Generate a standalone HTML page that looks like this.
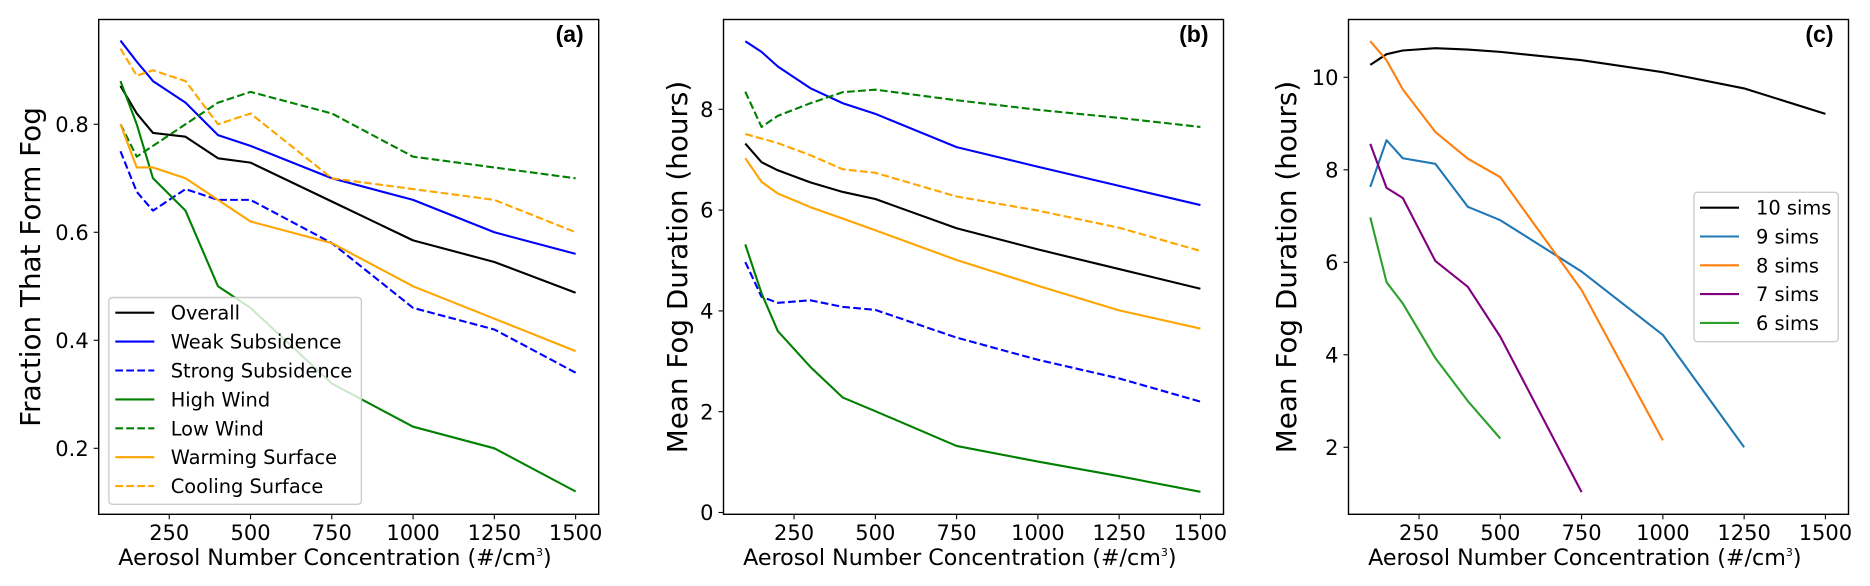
<!DOCTYPE html>
<html lang="en">
<head>
<meta charset="utf-8">
<title>Fog formation and duration versus aerosol number concentration</title>
<style>
  html, body { margin: 0; padding: 0; background: #fff; width: 1870px; height: 586px; overflow: hidden; }
  svg { display: block; }
  text { font-family: "DejaVu Sans", "Liberation Sans", sans-serif; fill: #000; }
</style>
</head>
<body>
<svg id="figure" xmlns="http://www.w3.org/2000/svg" width="1870" height="586" viewBox="0 0 1870 586"></svg>
<script>
// Shared x categories (aerosol number concentration)
const aerosolValues = [100, 150, 200, 300, 400, 500, 750, 1000, 1250, 1500];
const xTickValues = [250, 500, 750, 1000, 1250, 1500];

// Panel (a): fraction that form fog
const overallA = [0.871, 0.82, 0.784, 0.777, 0.737, 0.729, 0.657, 0.585, 0.545, 0.488];
const weakSubsidenceA = [0.955, 0.916, 0.88, 0.84, 0.78, 0.76, 0.70, 0.66, 0.60, 0.56];
const strongSubsidenceA = [0.75, 0.675, 0.64, 0.68, 0.66, 0.66, 0.58, 0.46, 0.42, 0.34];
const highWindA = [0.88, 0.80, 0.70, 0.64, 0.50, 0.46, 0.32, 0.24, 0.20, 0.12];
const lowWindA = [0.80, 0.74, 0.76, 0.80, 0.84, 0.86, 0.82, 0.74, 0.72, 0.70];
const warmingSurfaceA = [0.80, 0.72, 0.72, 0.70, 0.66, 0.62, 0.58, 0.50, 0.44, 0.38];
const coolingSurfaceA = [0.94, 0.89, 0.90, 0.88, 0.80, 0.82, 0.70, 0.68, 0.66, 0.60];
const yTicksA = [0.2, 0.4, 0.6, 0.8];
const yTickLabelsA = ["0.2", "0.4", "0.6", "0.8"];

// Panel (b): mean fog duration by regime
const overallB = [7.32, 6.95, 6.79, 6.55, 6.36, 6.22, 5.64, 5.22, 4.83, 4.44];
const weakSubsidenceB = [9.35, 9.14, 8.85, 8.42, 8.12, 7.91, 7.25, 6.86, 6.48, 6.10];
const strongSubsidenceB = [4.97, 4.28, 4.16, 4.21, 4.08, 4.02, 3.47, 3.03, 2.66, 2.20];
const highWindB = [5.32, 4.35, 3.60, 2.89, 2.28, 2.01, 1.32, 1.01, 0.72, 0.41];
const lowWindB = [8.35, 7.65, 7.87, 8.12, 8.34, 8.39, 8.18, 7.99, 7.83, 7.65];
const warmingSurfaceB = [7.03, 6.56, 6.33, 6.06, 5.83, 5.60, 5.01, 4.50, 4.01, 3.65];
const coolingSurfaceB = [7.51, 7.42, 7.33, 7.09, 6.81, 6.74, 6.27, 5.99, 5.65, 5.19];
const yTicksB = [0, 2, 4, 6, 8];
const yTickLabelsB = ["0", "2", "4", "6", "8"];

// Panel (c): mean fog duration by simulation count
const tenSims = [10.27, 10.50, 10.58, 10.63, 10.60, 10.55, 10.37, 10.11, 9.76, 9.21];
const nineSims = [7.63, 8.64, 8.25, 8.13, 7.20, 6.91, 5.80, 4.43, 2.00];
const eightSims = [10.78, 10.37, 9.74, 8.82, 8.24, 7.84, 5.40, 2.15];
const sevenSims = [8.56, 7.61, 7.39, 6.03, 5.47, 4.39, 1.03];
const sixSims = [6.97, 5.57, 5.11, 3.93, 3.00, 2.19];
const yTicksC = [2, 4, 6, 8, 10];
const yTickLabelsC = ["2", "4", "6", "8", "10"];

const SVG_NS = "http://www.w3.org/2000/svg";
const figure = document.getElementById("figure");
const TOP = 19.5, BOTTOM = 514.3, WIDTH = 500;
const X_DOMAIN = [33, 1571];

function node(parent, tag, attrs, text) {
  const el = document.createElementNS(SVG_NS, tag);
  for (const key in attrs) el.setAttribute(key, attrs[key]);
  if (text !== undefined) el.textContent = text;
  parent.appendChild(el);
  return el;
}

function drawPanel(panel) {
  const g = node(figure, "g", {});
  
  

  const xScale = v => panel.left + (v - X_DOMAIN[0]) / (X_DOMAIN[1] - X_DOMAIN[0]) * WIDTH;
  const yScale = v => BOTTOM - (v - panel.yDomain[0]) / (panel.yDomain[1] - panel.yDomain[0]) * (BOTTOM - TOP);

  // series
  panel.series.forEach(s => {
    const pts = s.values.map((v, i) => xScale(aerosolValues[i]).toFixed(2) + "," + yScale(v).toFixed(2)).join(" ");
    const line = node(g, "polyline", {
      points: pts, fill: "none", stroke: s.color, "stroke-width": 2.1,
      "stroke-linejoin": "round", "stroke-dasharray": s.dashed ? "7.7 3.3" : "none"
    });
    
    
  });

  // x ticks
  xTickValues.forEach(v => {
    const x = xScale(v);
    const tick = node(g, "line", { x1: x, x2: x, y1: BOTTOM, y2: BOTTOM + 5, stroke: "#000", "stroke-width": 1.1 });
    
    
    const label = node(g, "text", { x: x, y: 540, "text-anchor": "middle", "font-size": 21 }, String(v));
    
    
  });

  // y ticks
  panel.yTicks.forEach((v, i) => {
    const y = yScale(v);
    const tick = node(g, "line", { x1: panel.left - 5, x2: panel.left, y1: y, y2: y, stroke: "#000", "stroke-width": 1.1 });
    
    
    const label = node(g, "text", { x: panel.left - 10, y: y + 7.6, "text-anchor": "end", "font-size": 21 }, panel.yTickLabels[i]);
    
    
  });

  // frame
  const frame = node(g, "rect", { x: panel.left, y: TOP, width: WIDTH, height: BOTTOM - TOP, fill: "none", stroke: "#000", "stroke-width": 1.4 });
  
  

  // x axis title
  const xTitle = node(g, "text", { x: panel.left + 19.6, y: 565, "font-size": 22.2 }, "Aerosol Number Concentration (#/cm");
  const sup = node(xTitle, "tspan", { "font-size": 11, dy: -9 }, "3");
  node(xTitle, "tspan", { dy: 9 }, ")");
  
  
  
  

  // y axis title
  const yTitle = node(g, "text", {
    transform: "translate(" + panel.yTitleX + ",267) rotate(-90)",
    "text-anchor": "middle", "font-size": 27.8
  }, panel.yTitle);
  
  

  // panel letter
  const letter = node(g, "text", {
    x: panel.left + WIDTH - 15, y: 42, "text-anchor": "end", "font-size": 23, "font-weight": "bold",
    style: "font-family:'Liberation Sans',sans-serif"
  }, panel.letter);
  
  

  // legend
  if (panel.legend) {
    const lg = panel.legend;
    const legend = node(g, "g", {});
    
    
    const box = node(legend, "rect", {
      x: lg.x, y: lg.y, width: lg.w, height: lg.h, rx: 3.5, ry: 3.5,
      fill: "#fff", "fill-opacity": 0.8, stroke: "#ccc", "stroke-width": 1.4
    });
    
    
    panel.series.forEach((s, i) => {
      const rowY = lg.firstRow + i * lg.rowGap;
      const handle = node(legend, "line", {
        x1: lg.handleX, x2: lg.handleX + 39, y1: rowY, y2: rowY, stroke: s.color, "stroke-width": 2.1,
        "stroke-dasharray": s.dashed ? "7.7 3.3" : "none"
      });
      
      
      const txt = node(legend, "text", { x: lg.textX, y: rowY + 7, "font-size": 19.4 }, s.label);
      
      
    });
  }
}

const BLACK = "#000000", BLUE = "#0000ff", GREEN = "#008000", ORANGE = "#ffa500";

drawPanel({
  id: "a", letter: "(a)", left: 98.7, yDomain: [0.0778, 0.994], yTicks: yTicksA, yTickLabels: yTickLabelsA,
  yTitle: "Fraction That Form Fog", yTitleX: 40,
  series: [
    { key: "overall", label: "Overall", values: overallA, color: BLACK },
    { key: "weak-subsidence", label: "Weak Subsidence", values: weakSubsidenceA, color: BLUE },
    { key: "strong-subsidence", label: "Strong Subsidence", values: strongSubsidenceA, color: BLUE, dashed: true },
    { key: "high-wind", label: "High Wind", values: highWindA, color: GREEN },
    { key: "low-wind", label: "Low Wind", values: lowWindA, color: GREEN, dashed: true },
    { key: "warming-surface", label: "Warming Surface", values: warmingSurfaceA, color: ORANGE },
    { key: "cooling-surface", label: "Cooling Surface", values: coolingSurfaceA, color: ORANGE, dashed: true }
  ],
  legend: { x: 108.9, y: 297.5, w: 252.5, h: 206.8, handleX: 115.3, textX: 170.7, firstRow: 312.7, rowGap: 28.9 }
});

drawPanel({
  id: "b", letter: "(b)", left: 723.5, yDomain: [-0.036, 9.782], yTicks: yTicksB, yTickLabels: yTickLabelsB,
  yTitle: "Mean Fog Duration (hours)", yTitleX: 687,
  series: [
    { key: "overall", values: overallB, color: BLACK },
    { key: "weak-subsidence", values: weakSubsidenceB, color: BLUE },
    { key: "strong-subsidence", values: strongSubsidenceB, color: BLUE, dashed: true },
    { key: "high-wind", values: highWindB, color: GREEN },
    { key: "low-wind", values: lowWindB, color: GREEN, dashed: true },
    { key: "warming-surface", values: warmingSurfaceB, color: ORANGE },
    { key: "cooling-surface", values: coolingSurfaceB, color: ORANGE, dashed: true }
  ]
});

drawPanel({
  id: "c", letter: "(c)", left: 1348.5, yDomain: [0.551, 11.25], yTicks: yTicksC, yTickLabels: yTickLabelsC,
  yTitle: "Mean Fog Duration (hours)", yTitleX: 1296,
  series: [
    { key: "10-sims", label: "10 sims", values: tenSims, color: BLACK },
    { key: "9-sims", label: "9 sims", values: nineSims, color: "#1f77b4" },
    { key: "8-sims", label: "8 sims", values: eightSims, color: "#ff7f0e" },
    { key: "7-sims", label: "7 sims", values: sevenSims, color: "#800080" },
    { key: "6-sims", label: "6 sims", values: sixSims, color: "#2ca02c" }
  ],
  legend: { x: 1694, y: 192.3, w: 144.3, h: 149.4, handleX: 1700, textX: 1756, firstRow: 207.7, rowGap: 28.8 }
});
</script>
</body>
</html>
